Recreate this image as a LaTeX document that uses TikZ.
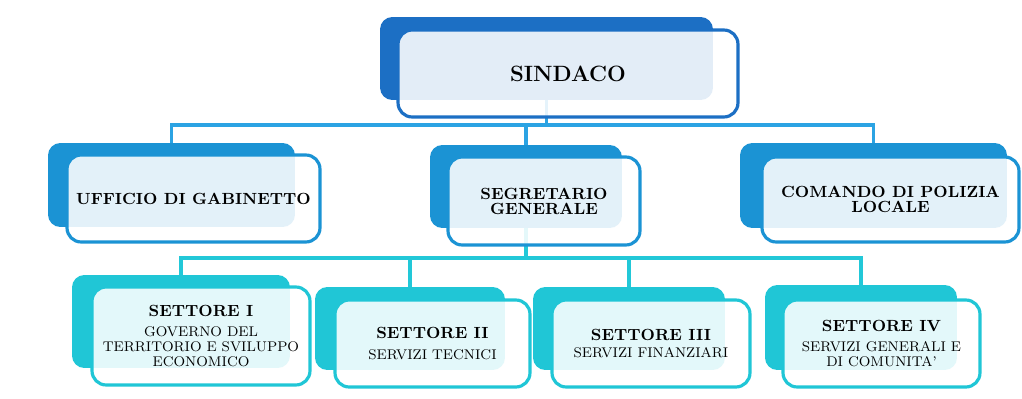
\documentclass[tikz,border=0pt]{standalone}
\usepackage{tikz}
\usetikzlibrary{backgrounds}

\definecolor{sindblue}{HTML}{1C6FC4}
\definecolor{capoblue}{HTML}{1B93D4}
\definecolor{settcyan}{HTML}{20C6D6}
\definecolor{linkblue}{HTML}{2BA3E3}
\definecolor{linkcyan}{HTML}{22C8D8}

\tikzset{
  backbox/.style={fill=#1, rounded corners=7pt, inner sep=0pt},
  frontbox/.style={draw=#1, line width=1.8pt, fill=white, fill opacity=0.88,
    text opacity=1, rounded corners=8pt, align=center, inner sep=0pt},
  link/.style={draw=#1, line width=2pt},
  tbig/.style={font=\fontsize{12.6}{14}\selectfont\bfseries},
  tmid/.style={font=\fontsize{9.2}{8.6}\selectfont\bfseries},
  tsmall/.style={font=\fontsize{8}{8.5}\selectfont}
}
\newcommand{\settit}[1]{{\fontsize{9.2}{10}\selectfont\bfseries #1}}

\begin{document}
\begin{tikzpicture}[x=0.02cm, y=-0.02cm]
  \useasboundingbox (0,0) rectangle (1022,399);

  % vertice
  \node[backbox=sindblue, minimum width=6.66cm, minimum height=1.66cm] (sindacob) at (546.5,58.5) {};
  \node[frontbox=sindblue, tbig, minimum width=6.8cm, minimum height=1.74cm] (sindaco) at (568,73.5) {SINDACO};

  % secondo livello
  \node[backbox=capoblue, minimum width=4.94cm, minimum height=1.68cm] (gabb) at (171.5,185) {};
  \node[frontbox=capoblue, tmid, minimum width=5.06cm, minimum height=1.74cm] (gab) at (193.5,198.5) {UFFICIO DI GABINETTO};

  \node[backbox=capoblue, minimum width=3.84cm, minimum height=1.66cm] (segb) at (526,186.5) {};
  \node[frontbox=capoblue, tmid, minimum width=3.84cm, minimum height=1.76cm] (seg) at (544,201) {SEGRETARIO\\GENERALE};

  \node[backbox=capoblue, minimum width=5.34cm, minimum height=1.70cm] (polb) at (873.5,185.5) {};
  \node[frontbox=capoblue, tmid, minimum width=5.14cm, minimum height=1.70cm] (pol) at (890.5,199.5) {COMANDO DI POLIZIA\\LOCALE};

  % settori
  \node[backbox=settcyan, minimum width=4.36cm, minimum height=1.86cm] (set1b) at (181,321.5) {};
  \node[frontbox=settcyan, tsmall, minimum width=4.36cm, minimum height=1.96cm] (set1) at (201,336)
    {\settit{SETTORE I}\\[3pt]GOVERNO DEL\\TERRITORIO E SVILUPPO\\ECONOMICO};

  \node[backbox=settcyan, minimum width=3.80cm, minimum height=1.66cm] (set2b) at (410,328.5) {};
  \node[frontbox=settcyan, tsmall, minimum width=3.90cm, minimum height=1.74cm] (set2) at (432.5,343.5)
    {\settit{SETTORE II}\\[3pt]SERVIZI TECNICI};

  \node[backbox=settcyan, minimum width=3.84cm, minimum height=1.66cm] (set3b) at (629,328.5) {};
  \node[frontbox=settcyan, tsmall, minimum width=3.96cm, minimum height=1.74cm] (set3) at (651,343.5)
    {\settit{SETTORE III}\\[1pt]SERVIZI FINANZIARI};

  \node[backbox=settcyan, minimum width=3.84cm, minimum height=1.70cm] (set4b) at (861,327.5) {};
  \node[frontbox=settcyan, tsmall, minimum width=3.94cm, minimum height=1.74cm] (set4) at (881.5,343.5)
    {\settit{SETTORE IV}\\[3pt]SERVIZI GENERALI E\\DI COMUNITA'};

  \coordinate (bus1) at (0,125);
  \coordinate (bus2) at (0,258);

  \begin{pgfonlayer}{background}
    \draw[link=linkblue] (sindacob.south) -- (sindacob.south |- bus1);
    \draw[link=linkblue] (gabb.north) |- (bus1 -| polb.north) -- (polb.north);
    \draw[link=linkblue] (segb.north) -- (segb.north |- bus1);
    \draw[link=linkcyan] (segb.south) -- (segb.south |- bus2);
    \draw[link=linkcyan] (set1b.north) |- (bus2 -| set4b.north) -- (set4b.north);
    \draw[link=linkcyan] (set2b.north) -- (set2b.north |- bus2);
    \draw[link=linkcyan] (set3b.north) -- (set3b.north |- bus2);
  \end{pgfonlayer}
\end{tikzpicture}
\end{document}
